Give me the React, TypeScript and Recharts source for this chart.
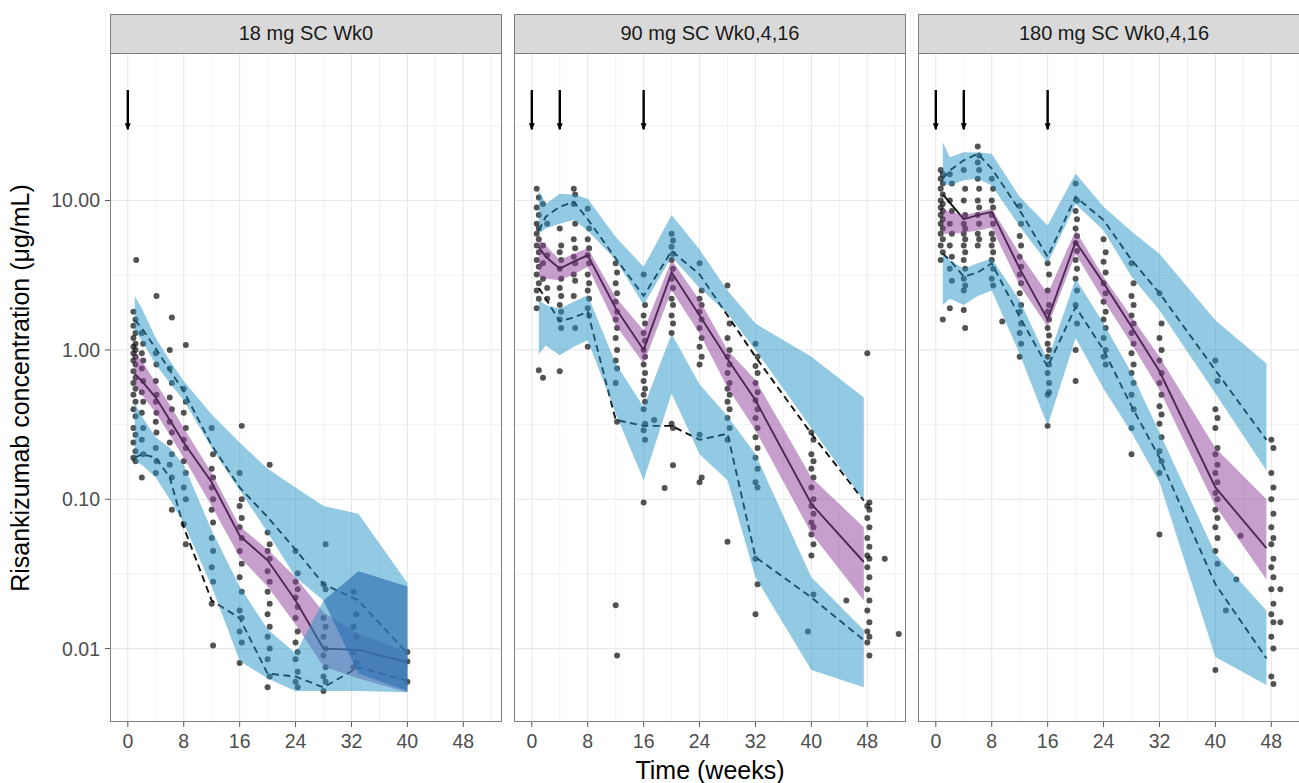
import React from "react";
import {
  Area,
  CartesianGrid,
  ComposedChart,
  Line,
  ReferenceLine,
  Scatter,
  XAxis,
  YAxis,
} from "recharts";

const FONT = '"Liberation Sans", Arial, sans-serif';

const weekTicks = [0, 8, 16, 24, 32, 40, 48];
const weekMinor = [4, 12, 20, 28, 36, 44, 52];
const concTicks = [0.01, 0.1, 1, 10];
const concMinor = [0.0316, 0.316, 3.16, 31.6];
const arrowTop = 55;
const arrowTip = 30;

// 18 mg SC Wk0
const p1Doses = [0];
const p1Time = [1, 2, 4, 6, 8, 12, 16, 20, 24, 28, 33, 40];
const p1HiLo = [1.35, 1.15, 0.8, 0.6, 0.46, 0.22, 0.115, 0.06, 0.03, 0.021, 0.0068, 0.0052];
const p1HiHi = [2.3, 1.9, 1.2, 0.85, 0.62, 0.37, 0.24, 0.16, 0.12, 0.09, 0.08, 0.0275];
const p1MedLo = [0.6, 0.5, 0.38, 0.27, 0.19, 0.09, 0.041, 0.026, 0.0145, 0.0076, 0.0063, 0.0051];
const p1MedHi = [0.95, 0.85, 0.6, 0.43, 0.3, 0.15, 0.066, 0.046, 0.03, 0.0175, 0.0125, 0.0095];
const p1LoLo = [0.18, 0.17, 0.14, 0.1, 0.069, 0.026, 0.0083, 0.0063, 0.0052, 0.0052, 0.0052, 0.0051];
const p1LoHi = [0.44, 0.36, 0.26, 0.22, 0.17, 0.062, 0.026, 0.0135, 0.0093, 0.021, 0.033, 0.026];
const p1Obs95 = [1.58, 1.4, 1.02, 0.73, 0.53, 0.23, 0.12, 0.076, 0.046, 0.027, 0.021, 0.0093];
const p1Obs50 = [0.69, 0.62, 0.48, 0.34, 0.24, 0.13, 0.057, 0.039, 0.021, 0.01, 0.0098, 0.0081];
const p1Obs05 = [0.19, 0.2, 0.19, 0.14, 0.065, 0.021, 0.016, 0.0068, 0.0065, 0.0055, 0.0075, 0.0061];
const p1Samples: [number, number[]][] = [
  [0.8, [1.8, 1.45, 1.2, 1.05, 0.95, 0.85, 0.72, 0.6, 0.5, 0.4, 0.3, 0.24, 0.19]],
  [1.1, [1.6, 1.3, 1.1, 1.0, 0.9, 0.8, 0.65, 0.55, 0.45, 0.36, 0.27, 0.21, 0.18]],
  [1.2, [4.0]],
  [2.0, [1.3, 0.95, 0.75, 0.52, 0.38, 0.25, 0.14]],
  [2.2, [1.1, 0.85, 0.62, 0.45, 0.3, 0.2]],
  [4.0, [0.95, 0.62, 0.45, 0.33, 0.22, 0.15]],
  [4.1, [2.3, 0.8, 0.5, 0.38, 0.28, 0.18]],
  [6.0, [1.0, 0.75, 0.48, 0.33, 0.24, 0.17]],
  [6.3, [1.65, 0.6, 0.4, 0.28, 0.2, 0.14, 0.085]],
  [8.0, [0.55, 0.38, 0.25, 0.18, 0.12, 0.068]],
  [8.3, [1.08, 0.45, 0.3, 0.22, 0.15, 0.1, 0.05]],
  [12.0, [0.3, 0.16, 0.12, 0.085, 0.055, 0.035, 0.02]],
  [12.2, [0.2, 0.14, 0.1, 0.07, 0.045, 0.028, 0.0105]],
  [16.0, [0.15, 0.09, 0.065, 0.045, 0.03, 0.018, 0.013, 0.008]],
  [16.3, [0.31, 0.1, 0.075, 0.055, 0.037, 0.024, 0.016, 0.011]],
  [20.0, [0.06, 0.045, 0.033, 0.024, 0.017, 0.012, 0.0085, 0.0055]],
  [20.3, [0.17, 0.05, 0.04, 0.028, 0.02, 0.014, 0.01, 0.0065]],
  [24.0, [0.045, 0.028, 0.022, 0.016, 0.011, 0.0085, 0.006]],
  [24.3, [0.032, 0.025, 0.019, 0.013, 0.0095, 0.007, 0.0055]],
  [28.0, [0.027, 0.016, 0.012, 0.009, 0.0065, 0.0052]],
  [28.3, [0.05, 0.025, 0.014, 0.01, 0.0075, 0.006]],
  [32.3, [0.024, 0.014, 0.0095, 0.0075]],
  [32.7, [0.017, 0.012, 0.008]],
  [40.0, [0.0095, 0.0082, 0.006]],
];

// 90 mg SC Wk0,4,16
const p2Doses = [0, 4, 16];
const p2Time = [1, 2, 4, 6, 8, 12, 16, 20, 24, 28, 32, 40, 47.5];
const p2HiLo = [6.0, 6.5, 7.0, 7.4, 6.3, 4.0, 2.0, 4.2, 2.6, 1.75, 1.0, 0.3, 0.098];
const p2HiHi = [11.7, 9.5, 11.1, 11.0, 10.3, 5.7, 3.6, 8.0, 4.7, 2.5, 1.5, 0.9, 0.48];
const p2MedLo = [3.1, 3.0, 2.93, 3.2, 3.6, 1.46, 0.81, 2.5, 1.29, 0.56, 0.29, 0.059, 0.021];
const p2MedHi = [5.5, 5.0, 4.0, 4.4, 4.8, 2.25, 1.35, 4.0, 2.15, 1.0, 0.63, 0.14, 0.065];
const p2LoLo = [0.94, 1.07, 0.92, 1.05, 1.16, 0.375, 0.134, 0.51, 0.2, 0.134, 0.03, 0.0072, 0.0055];
const p2LoHi = [2.15, 2.0, 1.89, 2.1, 2.32, 0.81, 0.415, 1.28, 0.59, 0.36, 0.2, 0.03, 0.0133];
const p2Obs95 = [6.3, 7.8, 9.1, 9.8, 7.5, 4.1, 2.3, 4.6, 3.2, 1.7, 0.9, 0.275, 0.098];
const p2Obs50 = [4.9, 4.2, 3.5, 3.9, 4.3, 1.9, 1.0, 3.3, 1.7, 0.87, 0.46, 0.093, 0.038];
const p2Obs05 = [2.6, 2.2, 1.55, 1.65, 1.8, 0.34, 0.31, 0.31, 0.25, 0.275, 0.041, 0.022, 0.0114];
const p2Samples: [number, number[]][] = [
  [0.7, [12, 9, 7, 6, 5, 4, 3.2, 2.5, 1.9]],
  [1.0, [10.5, 8, 6.5, 5.5, 4.5, 3.6, 2.8, 2.2, 0.73]],
  [1.6, [9.5, 5, 3.8, 3, 0.65]],
  [2.2, [7, 4.3, 2.6, 2.2]],
  [4.0, [6.5, 4.5, 3.5, 2.6, 2.0, 1.6, 0.72]],
  [4.2, [5, 4, 3, 2.3, 1.8, 1.4]],
  [6.0, [12, 9.5, 5.5, 4.2, 3.2, 2.3]],
  [6.2, [11, 7, 4.8, 3.8, 2.9, 1.4]],
  [8.0, [8.8, 5.5, 4.3, 3.2, 2.5, 1.9, 1.05]],
  [8.2, [6.5, 4.8, 3.8, 2.8, 2.2, 1.7]],
  [12.0, [3.8, 2.8, 2.1, 1.6, 1.2, 0.85, 0.6, 0.0195]],
  [12.2, [3.3, 2.4, 1.8, 1.4, 1.0, 0.75, 0.33, 0.009]],
  [16.0, [3.2, 1.7, 1.3, 1.0, 0.8, 0.62, 0.5, 0.4, 0.29, 0.095]],
  [16.2, [2.0, 1.5, 1.15, 0.9, 0.7, 0.55, 0.45, 0.32, 0.25]],
  [17.5, [0.34]],
  [19.0, [0.119]],
  [20.0, [6.0, 4.9, 4.0, 3.0, 2.2, 1.7, 1.3, 0.32]],
  [20.2, [5.4, 4.4, 3.5, 2.6, 2.0, 1.5, 0.3, 0.169]],
  [24.0, [3.8, 2.2, 1.8, 1.4, 1.05, 0.8, 0.27, 0.13]],
  [24.3, [2.5, 2.0, 1.6, 1.2, 0.9, 0.14]],
  [28.0, [2.7, 1.2, 0.9, 0.7, 0.55, 0.45, 0.35, 0.25, 0.052]],
  [28.3, [1.5, 1.0, 0.8, 0.6, 0.5, 0.4, 0.3]],
  [32.0, [1.1, 0.78, 0.6, 0.46, 0.35, 0.26, 0.19, 0.13, 0.04, 0.017]],
  [32.3, [0.9, 0.7, 0.52, 0.4, 0.3, 0.22, 0.16, 0.12, 0.027]],
  [39.5, [0.013]],
  [40.0, [0.28, 0.2, 0.16, 0.12, 0.09, 0.07, 0.058, 0.042]],
  [40.3, [0.25, 0.18, 0.14, 0.1, 0.08, 0.065, 0.05, 0.023]],
  [45.0, [0.021]],
  [48.0, [0.95, 0.09, 0.075, 0.055, 0.042, 0.035, 0.025, 0.018, 0.013, 0.011]],
  [48.3, [0.095, 0.085, 0.065, 0.048, 0.04, 0.03, 0.021, 0.015, 0.012, 0.009]],
  [50.5, [0.04]],
  [52.5, [0.0125]],
];

// 180 mg SC Wk0,4,16
const p3Doses = [0, 4, 16];
const p3Time = [1, 2, 4, 6, 8, 12, 16, 20, 24, 28, 32, 40, 47.3];
const p3HiLo = [13.0, 12.6, 13.7, 14.0, 12.6, 6.7, 3.8, 9.5, 6.3, 3.1, 1.84, 0.51, 0.156];
const p3HiHi = [24.6, 19.5, 21.1, 21.0, 20.6, 10.6, 6.8, 15.2, 9.1, 6.2, 4.4, 1.58, 0.81];
const p3MedLo = [6.0, 6.0, 6.1, 6.3, 6.6, 2.7, 1.43, 4.4, 2.15, 1.1, 0.54, 0.09, 0.029];
const p3MedHi = [8.8, 8.4, 8.0, 8.4, 8.8, 4.4, 2.38, 6.3, 3.08, 1.66, 0.9, 0.22, 0.1];
const p3LoLo = [2.0, 2.2, 2.0, 2.3, 2.5, 0.94, 0.31, 1.2, 0.55, 0.28, 0.13, 0.0088, 0.0057];
const p3LoHi = [4.4, 4.0, 3.5, 3.8, 4.1, 2.15, 0.85, 3.0, 1.5, 0.7, 0.28, 0.043, 0.018];
const p3Obs95 = [14, 15.9, 18.6, 20.6, 16.4, 8.6, 4.2, 10.6, 7.4, 4.0, 2.4, 0.73, 0.25];
const p3Obs50 = [11, 9.7, 7.5, 8.0, 8.4, 3.5, 1.6, 5.3, 2.8, 1.43, 0.72, 0.12, 0.047];
const p3Obs05 = [4.4, 4.0, 3.1, 3.3, 3.8, 1.66, 0.77, 1.94, 1.0, 0.42, 0.19, 0.027, 0.0086];
const p3Samples: [number, number[]][] = [
  [0.7, [16, 14, 12, 10, 9, 8, 7, 6, 5, 4.0]],
  [1.0, [15, 13, 11, 9.5, 8.5, 7.5, 6.5, 5.5, 4.5, 1.6]],
  [2.0, [15, 10, 7, 5, 3.5, 1.9]],
  [2.3, [13, 8.5, 6, 4.2, 2.9]],
  [4.0, [16, 10, 7, 6, 5, 4, 3, 2.5, 1.85]],
  [4.2, [12, 8, 6.5, 5.5, 4.5, 3.5, 2.7, 1.4]],
  [6.0, [23, 18, 14, 10, 8, 6, 5]],
  [6.2, [20, 16, 12, 9, 7, 5.5]],
  [8.0, [14, 10, 8, 6, 5, 4, 3]],
  [8.2, [12, 9, 7, 5.5, 4.5, 3.5, 2.7]],
  [9.5, [1.55]],
  [12.0, [9.2, 5.8, 4.2, 3.2, 2.4, 1.8, 1.3, 0.9]],
  [12.2, [7, 5, 3.6, 2.8, 2.0, 1.5, 1.1]],
  [16.0, [3.8, 2.5, 1.8, 1.4, 1.1, 0.9, 0.7, 0.5, 0.31]],
  [16.2, [3.2, 2.0, 1.6, 1.25, 1.0, 0.8, 0.6, 0.52]],
  [20.0, [13, 8.5, 6.5, 5.2, 4.0, 3.0, 2.0, 1.0, 0.62]],
  [20.2, [10, 7.5, 5.8, 4.6, 3.5, 2.5, 1.5]],
  [24.0, [5.5, 3.9, 2.8, 2.1, 1.6, 1.2, 0.9]],
  [24.3, [4.5, 3.3, 2.4, 1.8, 1.4, 1.0, 0.8]],
  [28.0, [3.8, 2.3, 1.7, 1.3, 0.95, 0.7, 0.5, 0.3, 0.2]],
  [28.3, [2.8, 2.0, 1.5, 1.1, 0.8, 0.6, 0.4]],
  [32.0, [2.4, 1.2, 0.85, 0.6, 0.42, 0.32, 0.21, 0.15, 0.058]],
  [32.3, [1.5, 1.0, 0.7, 0.5, 0.37, 0.26, 0.18]],
  [40.0, [0.85, 0.4, 0.3, 0.2, 0.15, 0.11, 0.085, 0.065, 0.045, 0.0072]],
  [40.3, [0.62, 0.35, 0.22, 0.17, 0.13, 0.1, 0.075, 0.055, 0.037]],
  [41.5, [0.018]],
  [43.0, [0.029]],
  [43.6, [0.057]],
  [48.0, [0.25, 0.15, 0.1, 0.065, 0.05, 0.035, 0.025, 0.017, 0.012, 0.0065]],
  [48.3, [0.22, 0.12, 0.08, 0.055, 0.04, 0.03, 0.02, 0.015, 0.01, 0.0058]],
  [49.3, [0.025, 0.015]],
];

const PLOT_TOP = 52.7;
const PLOT_H = 669;
const PLOT_W = 391.4;

interface PanelProps {
  title: string;
  plotLeft: number;
  showY: boolean;
  doses: number[];
  time: number[];
  hiLo: number[];
  hiHi: number[];
  medLo: number[];
  medHi: number[];
  loLo: number[];
  loHi: number[];
  obs95: number[];
  obs50: number[];
  obs05: number[];
  samples: [number, number[]][];
}

const band = (time: number[], lo: number[], hi: number[]) =>
  time.map((t, i) => ({ t, range: [lo[i], hi[i]] }));

const series = (time: number[], v: number[]) => time.map((t, i) => ({ t, v: v[i] }));

// where the 5th and 95th percentile intervals cross each other
const overlap = (time: number[], aLo: number[], aHi: number[], bLo: number[], bHi: number[]) =>
  time
    .map((t, i) => ({ t, range: [Math.max(aLo[i], bLo[i]), Math.min(aHi[i], bHi[i])] }))
    .filter((d) => d.range[1] >= d.range[0]);

const tickStyle = { fontSize: 19.5, fill: "#4d4d4d", fontFamily: FONT };

const Dot = (p: any) => <circle cx={p.cx} cy={p.cy} r={3} fill="#111" fillOpacity={0.72} />;
const Head = (p: any) => (
  <path d={`M${p.cx - 3},${p.cy - 6}L${p.cx + 3},${p.cy - 6}L${p.cx},${p.cy + 1}Z`} fill="#000" />
);

function Panel(props: PanelProps) {
  const { title, plotLeft, showY, doses, time } = props;
  const points = props.samples.flatMap(([t, cs]) => cs.map((v) => ({ t, v })));
  const both = overlap(time, props.loLo, props.loHi, props.hiLo, props.hiHi);
  const ml = showY ? 10 : 70;

  return (
    <>
      <div
        style={{
          position: "absolute",
          left: plotLeft,
          top: 14,
          width: PLOT_W,
          height: PLOT_TOP - 14,
          boxSizing: "border-box",
          background: "#d9d9d9",
          border: "1.2px solid #7f7f7f",
          borderBottom: "none",
          fontFamily: FONT,
          fontSize: 20,
          color: "#1a1a1a",
          display: "flex",
          alignItems: "center",
          justifyContent: "center",
        }}
      >
        {title}
      </div>
      <div style={{ position: "absolute", left: plotLeft - 70, top: PLOT_TOP - 10 }}>
        <ComposedChart
          width={PLOT_W + 80}
          height={PLOT_H + 50}
          margin={{ top: 10, right: 10, bottom: 0, left: ml }}
        >
          <CartesianGrid
            stroke="#ededed"
            strokeWidth={0.7}
            verticalValues={weekMinor}
            horizontalValues={concMinor}
          />
          <CartesianGrid
            stroke="#e8e8e8"
            strokeWidth={1.1}
            verticalValues={weekTicks}
            horizontalValues={concTicks}
          />
          <XAxis
            type="number"
            dataKey="t"
            domain={[-2.55, 53.45]}
            allowDataOverflow
            ticks={weekTicks}
            tick={tickStyle}
            tickSize={5}
            tickMargin={7}
            tickLine={{ stroke: "#555" }}
            axisLine={false}
            height={40}
          />
          <YAxis
            type="number"
            scale="log"
            domain={[0.003225, 97.3]}
            allowDataOverflow
            ticks={concTicks}
            tickFormatter={(v: number) => v.toFixed(2)}
            tick={tickStyle}
            tickSize={5}
            tickMargin={5}
            tickLine={{ stroke: "#555" }}
            axisLine={false}
            width={60}
            hide={!showY}
          />
          <Scatter data={points} dataKey="v" shape={Dot} isAnimationActive={false} />
          <Line
            data={series(time, props.obs95)}
            dataKey="v"
            stroke="#111"
            strokeWidth={1.9}
            strokeDasharray="7 4.5"
            dot={false}
            activeDot={false}
            isAnimationActive={false}
          />
          <Line
            data={series(time, props.obs05)}
            dataKey="v"
            stroke="#111"
            strokeWidth={1.9}
            strokeDasharray="7 4.5"
            dot={false}
            activeDot={false}
            isAnimationActive={false}
          />
          <Line
            data={series(time, props.obs50)}
            dataKey="v"
            stroke="#111"
            strokeWidth={1.9}
            dot={false}
            activeDot={false}
            isAnimationActive={false}
          />
          <Area
            data={band(time, props.medLo, props.medHi)}
            dataKey="range"
            fill="#8e3f9a"
            fillOpacity={0.5}
            stroke="none"
            zIndex={700}
            isAnimationActive={false}
          />
          <Area
            data={band(time, props.loLo, props.loHi)}
            dataKey="range"
            fill="#2596c8"
            fillOpacity={0.5}
            stroke="none"
            zIndex={700}
            isAnimationActive={false}
          />
          <Area
            data={band(time, props.hiLo, props.hiHi)}
            dataKey="range"
            fill="#2596c8"
            fillOpacity={0.5}
            stroke="none"
            zIndex={700}
            isAnimationActive={false}
          />
          {both.length > 1 && (
            <Area
              data={both}
              dataKey="range"
              fill="#3d509f"
              fillOpacity={0.35}
              stroke="none"
              zIndex={700}
              isAnimationActive={false}
            />
          )}
          {doses.map((d) => (
            <ReferenceLine
              key={d}
              segment={[
                { x: d, y: arrowTop },
                { x: d, y: arrowTip },
              ]}
              stroke="#000"
              strokeWidth={2.4}
            />
          ))}
          <Scatter
            data={doses.map((d) => ({ t: d, v: arrowTip }))}
            dataKey="v"
            shape={Head}
            isAnimationActive={false}
          />
        </ComposedChart>
      </div>
      <div
        style={{
          position: "absolute",
          left: plotLeft,
          top: PLOT_TOP,
          width: PLOT_W,
          height: PLOT_H,
          boxSizing: "border-box",
          border: "1.3px solid #7f7f7f",
          pointerEvents: "none",
        }}
      />
    </>
  );
}

export default function App() {
  return (
    <div
      style={{
        position: "absolute",
        left: 0,
        top: 0,
        width: 1299,
        height: 783,
        overflow: "hidden",
        background: "#fff",
      }}
    >
      <Panel
        title="18 mg SC Wk0"
        plotLeft={110.3}
        showY
        doses={p1Doses}
        time={p1Time}
        hiLo={p1HiLo}
        hiHi={p1HiHi}
        medLo={p1MedLo}
        medHi={p1MedHi}
        loLo={p1LoLo}
        loHi={p1LoHi}
        obs95={p1Obs95}
        obs50={p1Obs50}
        obs05={p1Obs05}
        samples={p1Samples}
      />
      <Panel
        title="90 mg SC Wk0,4,16"
        plotLeft={514.3}
        showY={false}
        doses={p2Doses}
        time={p2Time}
        hiLo={p2HiLo}
        hiHi={p2HiHi}
        medLo={p2MedLo}
        medHi={p2MedHi}
        loLo={p2LoLo}
        loHi={p2LoHi}
        obs95={p2Obs95}
        obs50={p2Obs50}
        obs05={p2Obs05}
        samples={p2Samples}
      />
      <Panel
        title="180 mg SC Wk0,4,16"
        plotLeft={918.3}
        showY={false}
        doses={p3Doses}
        time={p3Time}
        hiLo={p3HiLo}
        hiHi={p3HiHi}
        medLo={p3MedLo}
        medHi={p3MedHi}
        loLo={p3LoLo}
        loHi={p3LoHi}
        obs95={p3Obs95}
        obs50={p3Obs50}
        obs05={p3Obs05}
        samples={p3Samples}
      />
      <div
        style={{
          position: "absolute",
          left: 20,
          top: 387.5,
          transform: "translate(-50%, -50%) rotate(-90deg)",
          whiteSpace: "nowrap",
          fontFamily: FONT,
          fontSize: 25,
          color: "#000",
        }}
      >
        Risankizumab concentration (μg/mL)
      </div>
      <div
        style={{
          position: "absolute",
          left: 110,
          width: 1200,
          top: 758.4,
          lineHeight: "25px",
          textAlign: "center",
          fontFamily: FONT,
          fontSize: 25,
          color: "#000",
        }}
      >
        Time (weeks)
      </div>
    </div>
  );
}
